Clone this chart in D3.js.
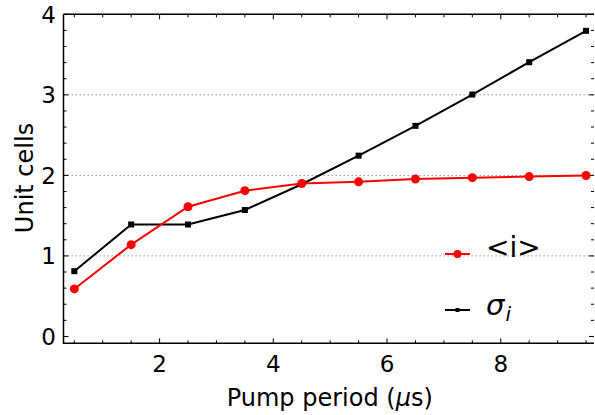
<!DOCTYPE html>
<html><head><meta charset="utf-8">
<script src="https://cdn.jsdelivr.net/npm/d3@7"></script>
<style>body{margin:0;background:#fff}svg{display:block;font-family:"DejaVu Sans",sans-serif}</style>
</head><body><svg id="c" width="595" height="415"></svg>
<script>
const pumpPeriod = [0.5,1.5,2.5,3.5,4.5,5.5,6.5,7.5,8.5,9.5];
const meanI = [0.59,1.14,1.61,1.81,1.90,1.92,1.955,1.972,1.985,1.998];
const sigmaI = [0.81,1.39,1.39,1.57,1.89,2.245,2.615,3.004,3.405,3.795];
const xTicks = [2,4,6,8];
const yTicks = [0,1,2,3,4];
const gridVals = [1,2,3];

const svg = d3.select('#c');
const L=63.5, R=594, T=14.3, B=343.3;
const x = d3.scaleLinear().domain([0.31,9.64]).range([L,R]);
const y = d3.scaleLinear().domain([-0.085,4]).range([B,T]);

// grid
svg.append('g').selectAll('line').data(gridVals).join('line')
  .attr('x1',L).attr('x2',R).attr('y1',d=>y(d)).attr('y2',d=>y(d))
  .attr('stroke','#999').attr('stroke-width',1).attr('stroke-dasharray','1.5,2.5');

// minor/major ticks, inward
const xMinor = d3.range(0.5,9.6,0.5).filter(v=>!xTicks.includes(v));
const yMinor = d3.range(0,4.01,0.2).map(v=>+v.toFixed(2)).filter(v=>!yTicks.includes(v));
const tk = svg.append('g').attr('stroke','#000').attr('stroke-width',1);
xTicks.forEach(v=>{tk.append('line').attr('x1',x(v)).attr('x2',x(v)).attr('y1',B).attr('y2',B-5);
  tk.append('line').attr('x1',x(v)).attr('x2',x(v)).attr('y1',T).attr('y2',T+5);});
xMinor.forEach(v=>{tk.append('line').attr('x1',x(v)).attr('x2',x(v)).attr('y1',B).attr('y2',B-3);
  tk.append('line').attr('x1',x(v)).attr('x2',x(v)).attr('y1',T).attr('y2',T+3);});
yTicks.forEach(v=>{tk.append('line').attr('x1',L).attr('x2',L+5).attr('y1',y(v)).attr('y2',y(v));
  tk.append('line').attr('x1',R).attr('x2',R-5).attr('y1',y(v)).attr('y2',y(v));});
yMinor.forEach(v=>{tk.append('line').attr('x1',L).attr('x2',L+3).attr('y1',y(v)).attr('y2',y(v));
  tk.append('line').attr('x1',R).attr('x2',R-3).attr('y1',y(v)).attr('y2',y(v));});

// spines
svg.append('path').attr('d',`M${L},${T}H${R}M${L},${T}V${B}H${R}`).attr('fill','none').attr('stroke','#000').attr('stroke-width',1.5);

// tick labels
svg.append('g').selectAll('text').data(xTicks).join('text')
  .attr('x',d=>x(d)).attr('y',372).attr('text-anchor','middle').attr('font-size',23).text(d=>d);
svg.append('g').selectAll('text').data(yTicks).join('text')
  .attr('x',56).attr('y',d=>y(d)+8.5).attr('text-anchor','end').attr('font-size',23).text(d=>d);

// axis labels
const xl = svg.append('text').attr('x',(L+R)/2+1).attr('y',406).attr('text-anchor','middle').attr('font-size',24);
xl.append('tspan').text('Pump period (');
xl.append('tspan').attr('font-style','italic').text('μ');
xl.append('tspan').text('s)');
svg.append('text').attr('transform','translate(33,178) rotate(-90)').attr('text-anchor','middle').attr('font-size',24).text('Unit cells');

// lines
const line = d3.line().x((d,i)=>x(pumpPeriod[i])).y(d=>y(d));
svg.append('path').datum(sigmaI).attr('d',line).attr('fill','none').attr('stroke','#000').attr('stroke-width',2);
svg.append('g').selectAll('rect').data(sigmaI).join('rect')
  .attr('x',(d,i)=>x(pumpPeriod[i])-3).attr('y',d=>y(d)-3).attr('width',6).attr('height',6).attr('fill','#000');
svg.append('path').datum(meanI).attr('d',line).attr('fill','none').attr('stroke','#f00').attr('stroke-width',2);
svg.append('g').selectAll('circle').data(meanI).join('circle')
  .attr('cx',(d,i)=>x(pumpPeriod[i])).attr('cy',d=>y(d)).attr('r',4.5).attr('fill','#f00');

// legend
svg.append('line').attr('x1',445).attr('x2',470).attr('y1',254).attr('y2',254).attr('stroke','#f00').attr('stroke-width',2);
svg.append('circle').attr('cx',457.5).attr('cy',254).attr('r',4).attr('fill','#f00');
svg.append('text').attr('x',486).attr('y',257).attr('font-size',28).text('<i>');
svg.append('line').attr('x1',445).attr('x2',470).attr('y1',310).attr('y2',310).attr('stroke','#000').attr('stroke-width',2);
svg.append('rect').attr('x',455.5).attr('y',308).attr('width',4).attr('height',4).attr('fill','#000');
const s = svg.append('text').attr('x',486).attr('y',315).attr('font-size',29).attr('font-style','italic');
s.append('tspan').text('σ');
s.append('tspan').attr('font-size',20).attr('dy',6).attr('dx',1).text('i');
</script></body></html>
